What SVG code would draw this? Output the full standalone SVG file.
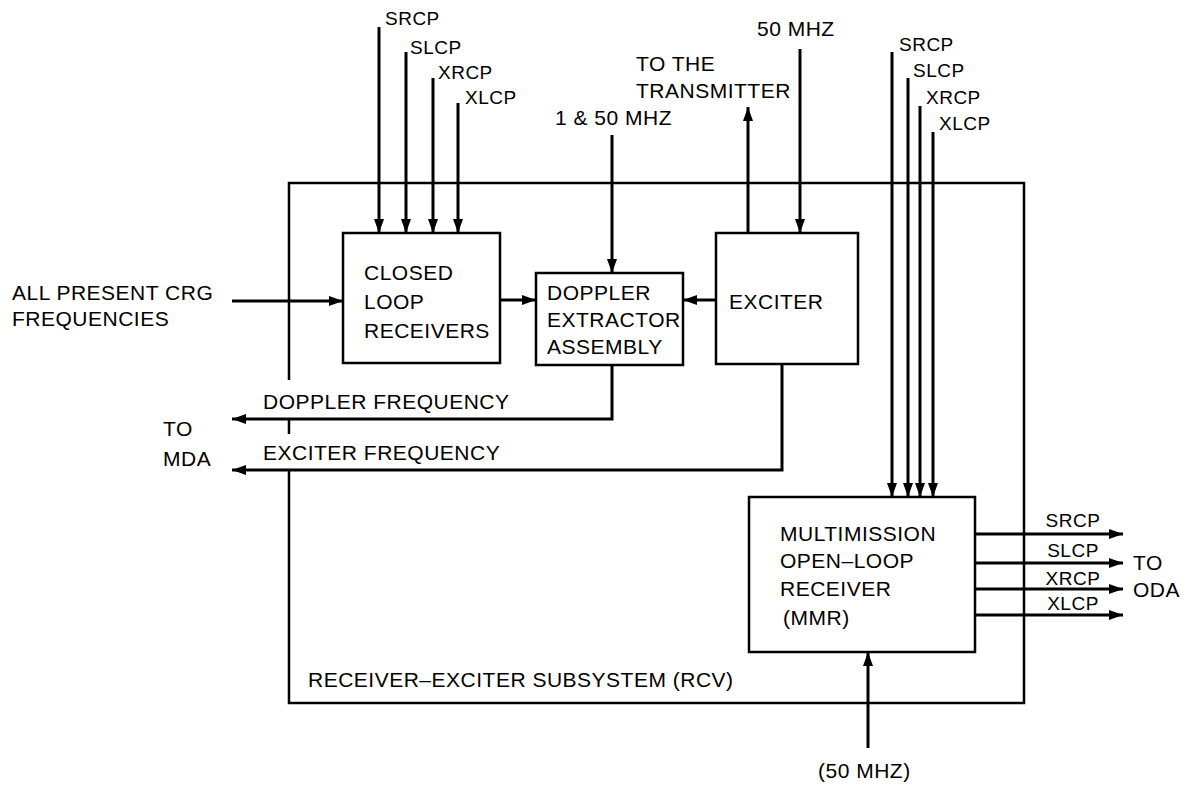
<svg xmlns="http://www.w3.org/2000/svg" width="1191" height="785" viewBox="0 0 1191 785">
<defs>
<marker id="ah" viewBox="0 0 14 10" refX="14" refY="5" markerWidth="14" markerHeight="10" markerUnits="userSpaceOnUse" orient="auto">
<path d="M0,0 L14,5 L0,10 z" fill="#000"/>
</marker>
</defs>
<style>
.box{fill:none;stroke:#000;stroke-width:2.5}
.ln{fill:none;stroke:#000;stroke-width:3}
.ar{fill:none;stroke:#000;stroke-width:3;marker-end:url(#ah)}
text{font-family:"Liberation Sans",Arial,sans-serif;font-size:21px;fill:#000;letter-spacing:0.5px}
.s{font-size:19px}
</style>
<rect width="1191" height="785" fill="#fff"/>

<g id="rcv">
<path class="box" d="M289,380 V183 H1024 V703 H289 V470 M289,420 V434"/>
<text x="308" y="687">RECEIVER–EXCITER SUBSYSTEM (RCV)</text>
</g>

<g id="clr">
<rect class="box" x="343" y="233" width="157" height="130"/>
<text x="364" y="280">CLOSED</text>
<text x="364" y="309">LOOP</text>
<text x="364" y="338">RECEIVERS</text>
</g>

<g id="dea">
<rect class="box" x="536" y="273" width="147" height="92"/>
<text x="547" y="300">DOPPLER</text>
<text x="547" y="327">EXTRACTOR</text>
<text x="547" y="354">ASSEMBLY</text>
</g>

<g id="exciter">
<rect class="box" x="716" y="233" width="142" height="131"/>
<text x="729" y="309">EXCITER</text>
</g>

<g id="mmr">
<rect class="box" x="749" y="497" width="226" height="155"/>
<text x="780" y="541">MULTIMISSION</text>
<text x="780" y="568">OPEN–LOOP</text>
<text x="780" y="596">RECEIVER</text>
<text x="783" y="625">(MMR)</text>
</g>

<g id="connectors">
<path class="ar" d="M379,27 V233"/>
<path class="ar" d="M406,52 V233"/>
<path class="ar" d="M433,78 V233"/>
<path class="ar" d="M458,103 V233"/>
<path class="ar" d="M612,135 V273"/>
<path class="ar" d="M748,233 V107"/>
<path class="ar" d="M800,49 V233"/>
<path class="ar" d="M892,52 V497"/>
<path class="ar" d="M908,78 V497"/>
<path class="ar" d="M920,106 V497"/>
<path class="ar" d="M933,132 V497"/>
<path class="ar" d="M232,301 H343"/>
<path class="ar" d="M500,300 H536"/>
<path class="ar" d="M716,300 H683"/>
<path class="ar" d="M612,365 V419 H232"/>
<path class="ar" d="M782,364 V470 H232"/>
<path class="ar" d="M975,534 H1123"/>
<path class="ar" d="M975,563 H1123"/>
<path class="ar" d="M975,589 H1123"/>
<path class="ar" d="M975,615 H1123"/>
<path class="ar" d="M868,748 V652"/>
</g>

<g id="labels">
<text class="s" x="385" y="25">SRCP</text>
<text class="s" x="410" y="54">SLCP</text>
<text class="s" x="438" y="79">XRCP</text>
<text class="s" x="465" y="104">XLCP</text>
<text x="672" y="125" text-anchor="end">1 &amp; 50 MHZ</text>
<text x="636" y="71">TO THE</text>
<text x="636" y="98">TRANSMITTER</text>
<text x="757" y="36">50 MHZ</text>
<text class="s" x="899" y="51">SRCP</text>
<text class="s" x="913" y="77">SLCP</text>
<text class="s" x="926" y="104">XRCP</text>
<text class="s" x="939" y="130">XLCP</text>
<text x="12" y="300">ALL PRESENT CRG</text>
<text x="12" y="326">FREQUENCIES</text>
<text x="263" y="409">DOPPLER FREQUENCY</text>
<text x="263" y="460">EXCITER FREQUENCY</text>
<text x="163" y="436">TO</text>
<text x="163" y="466">MDA</text>
<text class="s" x="1073" y="527" text-anchor="middle">SRCP</text>
<text class="s" x="1073" y="557" text-anchor="middle">SLCP</text>
<text class="s" x="1073" y="585" text-anchor="middle">XRCP</text>
<text class="s" x="1073" y="610" text-anchor="middle">XLCP</text>
<text x="1133" y="570">TO</text>
<text x="1133" y="597">ODA</text>
<text x="818" y="778">(50 MHZ)</text>
</g>
</svg>
